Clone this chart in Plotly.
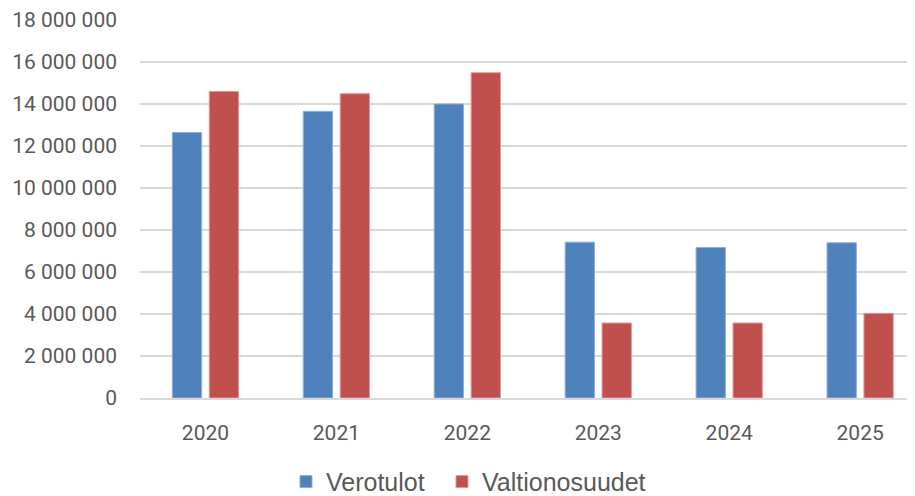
import plotly.graph_objects as go

years = ["2020", "2021", "2022", "2023", "2024", "2025"]
verotulot = [12640000, 13650000, 14000000, 7420000, 7170000, 7390000]
valtionosuudet = [14600000, 14490000, 15490000, 3570000, 3570000, 4030000]
ytick_vals = [0, 2000000, 4000000, 6000000, 8000000, 10000000, 12000000, 14000000, 16000000, 18000000]
ytick_text = ["0", "2 000 000", "4 000 000", "6 000 000", "8 000 000", "10 000 000",
              "12 000 000", "14 000 000", "16 000 000", "18 000 000"]

fig = go.Figure()
fig.add_trace(go.Bar(x=years, y=verotulot, name="Verotulot", legend="legend",
                     marker=dict(color="#4F81BD", line=dict(color="#8FAEDA", width=1))))
fig.add_trace(go.Bar(x=years, y=valtionosuudet, name="Valtionosuudet", legend="legend2",
                     marker=dict(color="#C0504D", line=dict(color="#DC9A98", width=1))))

tick_font = dict(family="Roboto", size=21, color="#595959")
legend_font = dict(family="Liberation Sans", size=25, color="#595959")

# page body has an 8px default margin, so the figure is sized/offset to compensate
fig.update_layout(
    width=907, height=488,
    margin=dict(l=132, r=0, t=12, b=98, autoexpand=False),
    paper_bgcolor="white", plot_bgcolor="white",
    barmode="group", bargap=0.436, bargroupgap=0.206,
    showlegend=True,
    legend=dict(orientation="h", xref="container", yref="container",
                x=0.3065, xanchor="left", y=0.029, yanchor="middle",
                font=legend_font, itemwidth=30),
    legend2=dict(orientation="h", xref="container", yref="container",
                 x=0.4785, xanchor="left", y=0.029, yanchor="middle",
                 font=legend_font, itemwidth=30),
    xaxis=dict(range=[-0.5, 5.419], showgrid=False, showline=True,
               linecolor="#D9D9D9", linewidth=2, ticks="",
               tickfont=tick_font, ticklabelstandoff=15),
    yaxis=dict(range=[0, 18000000], tickvals=ytick_vals, ticktext=ytick_text,
               showgrid=True, gridcolor="#D9D9D9", gridwidth=2,
               zeroline=False, showline=False, ticks="",
               tickfont=tick_font, ticklabelstandoff=22),
)

fig.write_html("out.html")
